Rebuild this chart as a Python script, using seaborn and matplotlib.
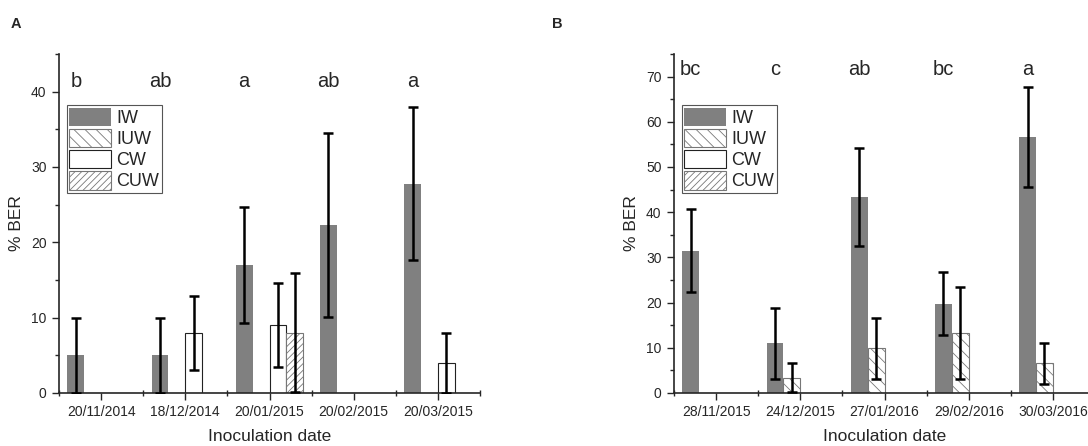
import matplotlib
matplotlib.use("Agg")
import matplotlib.pyplot as plt
import seaborn as sns
import pandas as pd
from matplotlib.ticker import MultipleLocator

# --- data ---
treatments = ["IW", "IUW", "CW", "CUW"]

dates_a = ["20/11/2014", "18/12/2014", "20/01/2015", "20/02/2015", "20/03/2015"]
iw_a = [5.0, 5.0, 17.0, 22.3, 27.8]
iw_a_err = [5.0, 5.0, 7.7, 12.2, 10.1]
iuw_a = [0, 0, 0, 0, 0]
iuw_a_err = [0, 0, 0, 0, 0]
cw_a = [0, 8.0, 9.0, 0, 4.0]
cw_a_err = [0, 4.9, 5.6, 0, 4.0]
cuw_a = [0, 0, 8.0, 0, 0]
cuw_a_err = [0, 0, 7.9, 0, 0]
letters_a = ["b", "ab", "a", "ab", "a"]

dates_b = ["28/11/2015", "24/12/2015", "27/01/2016", "29/02/2016", "30/03/2016"]
iw_b = [31.5, 11.0, 43.3, 19.8, 56.6]
iw_b_err = [9.1, 7.9, 10.8, 7.0, 11.1]
iuw_b = [0, 3.4, 9.9, 13.2, 6.6]
iuw_b_err = [0, 3.2, 6.7, 10.2, 4.5]
cw_b = [0, 0, 0, 0, 0]
cw_b_err = [0, 0, 0, 0, 0]
cuw_b = [0, 0, 0, 0, 0]
cuw_b_err = [0, 0, 0, 0, 0]
letters_b = ["bc", "c", "ab", "bc", "a"]

FONT = ["Liberation Sans", "DejaVu Sans"]
sns.set_style("ticks")
plt.rcParams["font.family"] = FONT
plt.rcParams["hatch.linewidth"] = 0.6

colors = {"IW": "#808080", "IUW": "white", "CW": "white", "CUW": "white"}
hatches = {"IW": "", "IUW": "\\\\\\", "CW": "", "CUW": "/////"}
edges = {"IW": "#808080", "IUW": "#777777", "CW": "#222222", "CUW": "#777777"}


def long_frame(dates, series, errs):
    rows = []
    for t, vals, ers in zip(treatments, series, errs):
        for d, v, e in zip(dates, vals, ers):
            rows.append({"date": d, "treatment": t, "ber": v, "err": e})
    return pd.DataFrame(rows)


def draw_panel(ax, df, dates, letters, letter_y, ymax, ystep):
    sns.barplot(data=df, x="date", y="ber", hue="treatment", order=dates,
                hue_order=treatments, palette=colors, errorbar=None,
                width=0.8, saturation=1, ax=ax, legend=False)
    for t, cont in zip(treatments, ax.containers):
        sub = df[df.treatment == t].set_index("date").loc[dates]
        for p, v, e in zip(cont.patches, sub.ber, sub.err):
            p.set_hatch(hatches[t]); p.set_edgecolor(edges[t])
            p.set_linewidth(0.8 if t != "IW" else 0)
            if e > 0:
                cx = p.get_x() + p.get_width() / 2
                ax.errorbar(cx, v, yerr=e, color="black", lw=1.8,
                            capsize=3.5, capthick=1.8, zorder=5)
    # significance letters above the IW bars
    for p, lab in zip(ax.containers[0].patches, letters):
        ax.text(p.get_x() + p.get_width() / 2, letter_y, lab,
                ha="center", va="center", fontsize=14.5)
    ax.set_xlim(-0.5, 4.5)
    ax.set_ylim(0, ymax)
    ax.yaxis.set_major_locator(MultipleLocator(ystep))
    ax.yaxis.set_minor_locator(MultipleLocator(ystep / 2))
    ax.set_xticks(range(5))
    ax.set_xticks([i + 0.5 for i in range(-1, 5)], minor=True)
    ax.tick_params(axis="both", which="major", direction="out", length=5,
                   width=1, labelsize=10, pad=4)
    ax.tick_params(axis="y", which="minor", direction="out", length=3, width=1)
    ax.tick_params(axis="x", which="minor", direction="inout", length=4, width=1)
    for s in ["left", "bottom"]:
        ax.spines[s].set_linewidth(1.2)
    sns.despine(ax=ax)
    ax.set_xlabel("Inoculation date", fontsize=12.5, labelpad=6.5)
    ax.set_ylabel("% BER", fontsize=12.5, labelpad=5)
    ax.legend(ax.containers, treatments, loc="upper left",
              bbox_to_anchor=(0.018, 0.85), fontsize=13, frameon=True,
              fancybox=False, edgecolor="#555555", framealpha=1,
              handlelength=2.3, handleheight=1.2, labelspacing=0.1,
              handletextpad=0.3, borderpad=0.15, borderaxespad=0)
    ax.get_legend().get_frame().set_linewidth(0.8)


fig = plt.figure(figsize=(10.88, 4.46), dpi=100)
ax_a = fig.add_axes([59 / 1088, 53 / 446, 421 / 1088, 339 / 446])
ax_b = fig.add_axes([674 / 1088, 53 / 446, 421 / 1088, 339 / 446])

df_a = long_frame(dates_a, [iw_a, iuw_a, cw_a, cuw_a],
                  [iw_a_err, iuw_a_err, cw_a_err, cuw_a_err])
df_b = long_frame(dates_b, [iw_b, iuw_b, cw_b, cuw_b],
                  [iw_b_err, iuw_b_err, cw_b_err, cuw_b_err])

draw_panel(ax_a, df_a, dates_a, letters_a, 41.3, 45, 10)
draw_panel(ax_b, df_b, dates_b, letters_b, 71.5, 75, 10)

fig.text(16 / 1088, 1 - 24 / 446, "A", fontsize=10.5, fontweight="bold",
         ha="center", va="center")
fig.text(557 / 1088, 1 - 24 / 446, "B", fontsize=10.5, fontweight="bold",
         ha="center", va="center")

fig.savefig("out.png", dpi=100)
